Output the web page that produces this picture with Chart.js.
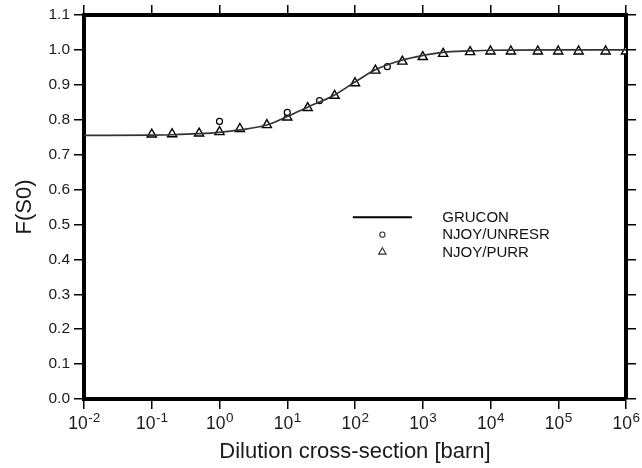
<!DOCTYPE html>
<html>
<head>
<meta charset="utf-8">
<script src="https://cdn.jsdelivr.net/npm/chart.js@4/dist/chart.umd.min.js"></script>
<style>
  body { margin: 0; background: #fff; }
  canvas { display: block; }
</style>
</head>
<body>
<canvas id="chart" width="642" height="468"></canvas>
<script>
// x ticks (decade exponents)
var xExponents = [-2, -1, 0, 1, 2, 3, 4, 5, 6];

// GRUCON curve
var gruconX = [0.01, 0.1, 0.2, 0.5, 1, 2, 5, 10, 20, 50, 100, 200, 500, 1000, 2000, 5000, 1e4, 1e5, 1e6];
var gruconY = [0.755, 0.756, 0.757, 0.760, 0.764, 0.771, 0.785, 0.809, 0.836, 0.871, 0.908, 0.943, 0.971, 0.984, 0.993, 0.997, 0.999, 1.0, 1.0];

// NJOY/UNRESR points
var unresrX = [1, 10, 30, 300];
var unresrY = [0.795, 0.821, 0.855, 0.952];

// NJOY/PURR points
var purrX = [0.1, 0.2, 0.5, 1, 2, 5, 10, 20, 50, 100, 200, 500, 1000, 2000, 5000, 1e4, 2e4, 5e4, 1e5, 2e5, 5e5, 1e6];
var purrY = [0.758, 0.759, 0.761, 0.765, 0.774, 0.785, 0.807, 0.834, 0.869, 0.905, 0.941, 0.967, 0.980, 0.989, 0.994, 0.996, 0.996, 0.996, 0.996, 0.996, 0.996, 0.996];

var FONT = "'Liberation Sans', Arial, sans-serif";

function pairs(xs, ys) {
    return xs.map(function (x, i) { return { x: x, y: ys[i] }; });
}

function decadeTicks(axis) {
    axis.ticks = xExponents.map(function (e) { return { value: Math.pow(10, e) }; });
}

// tick labels like 10^-2 with a raised exponent
var powerLabels = {
    id: 'powerLabels',
    afterDraw: function (chart) {
        var ctx = chart.ctx;
        var xs = chart.scales.x;
        var baseY = xs.top + 30;
        ctx.save();
        ctx.fillStyle = '#1a1a1a';
        ctx.textBaseline = 'alphabetic';
        ctx.textAlign = 'left';
        xExponents.forEach(function (e) {
            var px = xs.getPixelForValue(Math.pow(10, e));
            ctx.font = '17.5px ' + FONT;
            var wBase = ctx.measureText('10').width;
            ctx.font = '13.5px ' + FONT;
            var exp = String(e);
            var wExp = ctx.measureText(exp).width;
            var x0 = px - (wBase + wExp) / 2;
            ctx.font = '17.5px ' + FONT;
            ctx.fillText('10', x0, baseY);
            ctx.font = '13.5px ' + FONT;
            ctx.fillText(exp, x0 + wBase + 0.5, baseY - 7.5);
        });
        ctx.restore();
    }
};

// legend drawn inside the plot
var innerLegend = {
    id: 'innerLegend',
    afterDraw: function (chart) {
        var ctx = chart.ctx;
        var a = chart.chartArea;
        var lineX0 = a.left + (a.right - a.left) * 0.496;
        var lineX1 = a.left + (a.right - a.left) * 0.605;
        var markX = (lineX0 + lineX1) / 2;
        var textX = a.left + (a.right - a.left) * 0.661;
        var y0 = a.top + (a.bottom - a.top) * 0.527;
        var step = 17.3;
        ctx.save();
        ctx.font = '15px ' + FONT;
        ctx.textBaseline = 'middle';
        ctx.fillStyle = '#111';
        chart.data.datasets.forEach(function (ds, i) {
            var y = y0 + i * step;
            if (i === 0) {
                ctx.strokeStyle = '#000';
                ctx.lineWidth = 2;
                ctx.beginPath();
                ctx.moveTo(lineX0, y);
                ctx.lineTo(lineX1, y);
                ctx.stroke();
            } else if (ds.pointStyle === 'circle') {
                ctx.strokeStyle = '#333';
                ctx.lineWidth = 1.1;
                ctx.beginPath();
                ctx.arc(markX, y, 2.6, 0, Math.PI * 2);
                ctx.stroke();
            } else {
                ctx.strokeStyle = '#333';
                ctx.lineWidth = 1.1;
                var r = 4.3;
                ctx.beginPath();
                ctx.moveTo(markX, y - r);
                ctx.lineTo(markX + r * 0.866, y + r / 2);
                ctx.lineTo(markX - r * 0.866, y + r / 2);
                ctx.closePath();
                ctx.stroke();
            }
            ctx.fillText(ds.label, textX, y + 0.5);
        });
        ctx.restore();
    }
};

var gridStyle = { drawOnChartArea: false, drawTicks: true, tickLength: 10, color: '#000', lineWidth: 1.5 };
var borderStyle = { display: true, width: 4, color: '#000' };

new Chart(document.getElementById('chart'), {
    type: 'scatter',
    data: {
        datasets: [{
            label: 'GRUCON',
            type: 'line',
            data: pairs(gruconX, gruconY),
            borderColor: '#333',
            borderWidth: 1.7,
            pointRadius: 0,
            cubicInterpolationMode: 'monotone',
            fill: false
        }, {
            label: 'NJOY/UNRESR',
            data: pairs(unresrX, unresrY),
            pointStyle: 'circle',
            pointRadius: 3,
            borderColor: '#000',
            borderWidth: 1.2,
            backgroundColor: '#fff'
        }, {
            label: 'NJOY/PURR',
            data: pairs(purrX, purrY),
            pointStyle: 'triangle',
            pointRadius: 5.3,
            borderColor: '#000',
            borderWidth: 1.4,
            backgroundColor: '#fff'
        }]
    },
    options: {
        responsive: false,
        animation: false,
        layout: { padding: 0 },
        plugins: { legend: { display: false }, tooltip: { enabled: false } },
        scales: {
            x: {
                type: 'logarithmic',
                position: 'bottom',
                min: 0.01,
                max: 1e6,
                afterBuildTicks: decadeTicks,
                afterFit: function (axis) { axis.height = 69; },
                grid: gridStyle,
                border: borderStyle,
                ticks: { display: false },
                title: {
                    display: true,
                    text: 'Dilution cross-section [barn]',
                    color: '#1a1a1a',
                    font: { family: FONT, size: 22 },
                    padding: { top: 0, bottom: 3 }
                }
            },
            x2: {
                type: 'logarithmic',
                position: 'top',
                min: 0.01,
                max: 1e6,
                afterBuildTicks: decadeTicks,
                afterFit: function (axis) { axis.height = 15; },
                grid: gridStyle,
                border: borderStyle,
                ticks: { display: false }
            },
            y: {
                position: 'left',
                min: 0,
                max: 1.1,
                afterFit: function (axis) { axis.width = 84; },
                grid: gridStyle,
                border: borderStyle,
                ticks: {
                    stepSize: 0.1,
                    padding: 4,
                    color: '#1a1a1a',
                    font: { family: FONT, size: 15.5 },
                    callback: function (v) { return v.toFixed(1); }
                },
                title: {
                    display: true,
                    text: 'F(S0)',
                    color: '#1a1a1a',
                    font: { family: FONT, size: 22 },
                    padding: { top: 12, bottom: 0 }
                }
            },
            y2: {
                position: 'right',
                min: 0,
                max: 1.1,
                afterFit: function (axis) { axis.width = 16; },
                grid: gridStyle,
                border: borderStyle,
                ticks: { display: false, stepSize: 0.1 }
            }
        }
    },
    plugins: [powerLabels, innerLegend]
});
</script>
</body>
</html>
